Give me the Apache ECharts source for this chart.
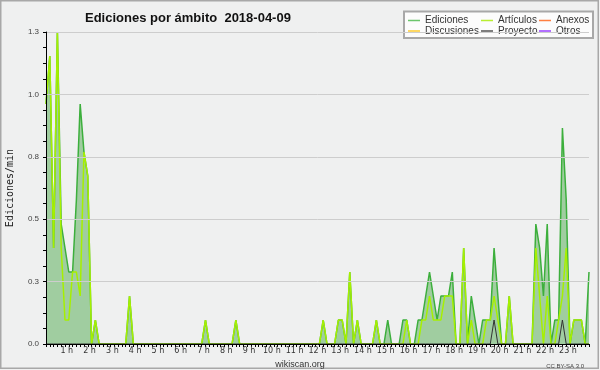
<!DOCTYPE html>
<html>
<head>
<meta charset="utf-8">
<script src="https://cdn.jsdelivr.net/npm/echarts@6/dist/echarts.min.js"></script>
<style>
html,body{margin:0;padding:0;background:#eff0f0;}
#c{width:600px;height:370px;}
</style>
</head>
<body>
<div id="c"></div>
<script>
// 10-minute bins, 00:00 .. 23:50
const times = [];
for (let h = 0; h < 24; h++) {
  for (let m = 0; m < 60; m += 10) {
    times.push(String(h).padStart(2, '0') + ':' + String(m).padStart(2, '0'));
  }
}
const hourLabels = ['1 h','2 h','3 h','4 h','5 h','6 h','7 h','8 h','9 h','10 h','11 h','12 h',
  '13 h','14 h','15 h','16 h','17 h','18 h','19 h','20 h','21 h','22 h','23 h'];
const yTickLabels = ['0.0','0.3','0.5','0.8','1.0','1.3'];

const ediciones = [
  1.0,1.2,0.4,1.3,0.5,0.4,0.3,0.3,0.6,1.0,0.8,0.7,
  0,0.1,0,0,0,0,0,0,0,0,0.2,0,
  0,0,0,0,0,0,0,0,0,0,0,0,
  0,0,0,0,0,0,0.1,0,0,0,0,0,
  0,0,0.1,0,0,0,0,0,0,0,0,0,
  0,0,0,0,0,0,0,0,0,0,0,0,
  0,0.1,0,0,0,0.1,0.1,0,0.3,0,0.1,0,
  0,0,0,0.1,0,0,0.1,0,0,0,0.1,0.1,
  0,0,0.1,0.1,0.2,0.3,0.2,0.1,0.2,0.2,0.2,0.3,
  0,0,0.4,0,0.2,0.1,0,0.1,0.1,0.1,0.4,0.2,
  0,0,0.2,0,0,0,0,0,0,0.5,0.4,0.2,
  0.5,0,0.1,0.1,0.9,0.6,0,0.1,0.1,0.1,0,0.3
];
const articulos = [
  1.0,1.2,0.4,1.3,0.4,0.1,0.1,0.3,0.3,0.2,0.8,0.7,
  0,0.1,0,0,0,0,0,0,0,0,0.2,0,
  0,0,0,0,0,0,0,0,0,0,0,0,
  0,0,0,0,0,0,0.1,0,0,0,0,0,
  0,0,0.1,0,0,0,0,0,0,0,0,0,
  0,0,0,0,0,0,0,0,0,0,0,0,
  0,0.1,0,0,0,0.1,0.1,0,0.3,0,0.1,0,
  0,0,0,0.1,0,0,0,0,0,0,0,0.1,
  0,0,0,0.1,0.1,0.2,0.1,0.1,0.1,0.2,0.2,0.2,
  0,0,0.4,0,0.1,0,0,0,0.1,0.1,0.2,0.1,
  0,0,0.2,0,0,0,0,0,0,0.4,0.2,0,
  0.2,0,0,0.1,0.2,0.4,0,0.1,0.1,0.1,0,0
];
const proyecto = [
  0,0,0,0,0,0,0,0,0,0,0,0,
  0,0,0,0,0,0,0,0,0,0,0,0,
  0,0,0,0,0,0,0,0,0,0,0,0,
  0,0,0,0,0,0,0,0,0,0,0,0,
  0,0,0,0,0,0,0,0,0,0,0,0,
  0,0,0,0,0,0,0,0,0,0,0,0,
  0,0,0,0,0,0,0,0,0,0,0,0,
  0,0,0,0,0,0,0,0,0,0,0,0,
  0,0,0,0,0,0,0,0,0,0,0,0,
  0,0,0,0,0,0,0,0,0,0,0.1,0,
  0,0,0,0,0,0,0,0,0,0,0,0,
  0,0,0,0,0.1,0,0,0,0,0,0,0
];
// no visible activity for these in the picture
const anexos = [];
const discusiones = [];
const otros = [];

const FONT = '"Liberation Sans", Arial, sans-serif';
const chart = echarts.init(document.getElementById('c'), null, {renderer: 'canvas'});

const legendBase = {
  orient: 'vertical', top: 15.5, padding: 0, itemWidth: 12, itemHeight: 1.5,
  itemGap: 0.5, icon: 'rect', selectedMode: false,
  textStyle: {fontSize: 10, lineHeight: 9, color: '#333', fontFamily: FONT}
};

chart.setOption({
  backgroundColor: '#eff0f0',
  animation: false,
  title: [
    {text: 'Ediciones por ámbito  2018-04-09', left: 80, top: 7,
     textStyle: {fontSize: 13, fontWeight: 'bold', color: '#111', fontFamily: FONT}},
    {text: 'wikiscan.org', left: 'center', top: 355,
     textStyle: {fontSize: 9, fontWeight: 'normal', color: '#333', fontFamily: FONT}},
    {text: 'CC BY-SA 3.0', right: 11, top: 358,
     textStyle: {fontSize: 6, fontWeight: 'normal', color: '#444', fontFamily: FONT}}
  ],
  graphic: [
    {type: 'rect', z: -10, silent: true,
     shape: {x: 0.75, y: 0.75, width: 597.5, height: 367.5},
     style: {fill: null, stroke: '#a8a8a8', lineWidth: 1.5}},
    {type: 'rect', z: -5, silent: true,
     shape: {x: 404, y: 11.5, width: 189, height: 26.5},
     style: {fill: '#fcfcfc', stroke: '#a8a8a8', lineWidth: 2}}
  ],
  legend: [
    Object.assign({}, legendBase, {left: 408, data: ['Ediciones', 'Discusiones']}),
    Object.assign({}, legendBase, {left: 481, data: ['Artículos', 'Proyecto']}),
    Object.assign({}, legendBase, {left: 539, data: ['Anexos', 'Otros']})
  ],
  grid: {left: 46, right: 11, top: 32, bottom: 26, containLabel: false, outerBoundsMode: 'none'},
  xAxis: {
    type: 'category', data: times, boundaryGap: false, z: 5,
    axisLine: {lineStyle: {color: '#000', width: 1}},
    axisTick: {interval: 0, length: 3, lineStyle: {color: '#000'}},
    axisLabel: {
      interval: function (i) { return i > 0 && i % 6 === 0; },
      formatter: function (v, i) { return hourLabels[i / 6 - 1]; },
      fontSize: 8, color: '#333', margin: 3, padding: [0, 4, 0, 0],
      fontFamily: '"DejaVu Sans", sans-serif'
    },
    splitLine: {show: false}
  },
  yAxis: {
    type: 'value', min: 0, max: 1.3, interval: 0.26, z: 5,
    name: 'Ediciones/min', nameLocation: 'middle', nameGap: 30.5, nameRotate: 90,
    nameTextStyle: {fontSize: 10, color: '#222', fontFamily: '"DejaVu Sans Mono", monospace'},
    axisLine: {show: true, lineStyle: {color: '#000', width: 1}},
    axisTick: {show: true, length: 3, lineStyle: {color: '#000'}},
    minorTick: {show: true, splitNumber: 4, length: 3, lineStyle: {color: '#000'}},
    axisLabel: {
      formatter: function (v) { return yTickLabels[Math.round(v / 0.26)]; },
      fontSize: 8, color: '#444', margin: 7, fontFamily: FONT
    },
    splitLine: {show: true, lineStyle: {color: '#cdcdcd', width: 1}}
  },
  series: [
    {name: 'Ediciones', type: 'line', data: ediciones, symbol: 'none', z: 2,
     itemStyle: {color: '#6cc66c'},
     lineStyle: {color: '#3caf3c', width: 1.5},
     areaStyle: {color: '#a0cda0', opacity: 1}},
    {name: 'Artículos', type: 'line', data: articulos, symbol: 'none', z: 3,
     itemStyle: {color: '#b8ee30'},
     lineStyle: {color: '#a6f000', width: 1.5}},
    {name: 'Anexos', type: 'line', data: anexos, symbol: 'none', z: 3,
     itemStyle: {color: '#ff7f40'}, lineStyle: {color: '#ff7f40', width: 1}},
    {name: 'Discusiones', type: 'line', data: discusiones, symbol: 'none', z: 3,
     itemStyle: {color: '#ffcc30'}, lineStyle: {color: '#ffcc30', width: 1}},
    {name: 'Proyecto', type: 'line', data: proyecto, symbol: 'none', z: 4,
     itemStyle: {color: '#555555'}, lineStyle: {color: '#333333', width: 1}},
    {name: 'Otros', type: 'line', data: otros, symbol: 'none', z: 3,
     itemStyle: {color: '#9a40ff'}, lineStyle: {color: '#9a40ff', width: 1}}
  ]
});
</script>
</body>
</html>
